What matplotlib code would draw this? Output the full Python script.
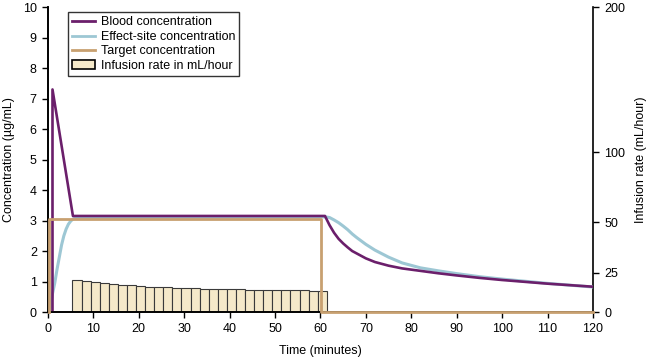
import matplotlib
matplotlib.use("Agg")
import matplotlib.pyplot as plt
import numpy as np
from matplotlib.patches import Patch
from matplotlib.lines import Line2D

# blood concentration (ug/mL)
blood_t = [1.0, 1.0, 5.5, 61.0, 62, 63, 64, 65, 66, 67, 68, 70, 72, 75, 78,
           82, 86, 90, 95, 100, 105, 110, 115, 120]
blood_c = [0.0, 7.3, 3.15, 3.15, 2.85, 2.6, 2.4, 2.25, 2.12, 2.0, 1.92, 1.76,
           1.64, 1.52, 1.43, 1.35, 1.27, 1.20, 1.12, 1.05, 0.99, 0.93, 0.88, 0.83]

# effect-site concentration (ug/mL)
effect_t = [0.4, 1.0, 1.5, 2.0, 2.5, 3.0, 3.5, 4.0, 4.5, 5.0, 5.5, 6.5, 61.0,
            62, 63, 64, 65, 66, 67, 68, 70, 72, 75, 78, 82, 86, 90, 95, 100,
            105, 110, 115, 120]
effect_c = [0.0, 0.6, 0.95, 1.4, 1.8, 2.2, 2.5, 2.72, 2.88, 2.98, 3.05, 3.1,
            3.12, 3.1, 3.02, 2.93, 2.82, 2.7, 2.56, 2.44, 2.22, 2.03, 1.80,
            1.61, 1.45, 1.35, 1.26, 1.16, 1.08, 1.01, 0.94, 0.88, 0.82]

# target concentration (ug/mL)
target_t = [0.3, 0.3, 60.2, 60.2, 120]
target_c = [0.0, 3.05, 3.05, 0.0, 0.0]

# infusion rate (mL/hour), one bar per 2 min starting at 5.4 min
infusion_start = [5.4 + 2 * i for i in range(28)]
infusion_rate = [20.3, 19.6, 19.0, 18.3, 17.9, 17.5, 17.1, 16.6, 16.2, 16.0,
                 15.8, 15.4, 15.1, 15.1, 14.9, 14.9, 14.7, 14.7, 14.5, 14.3,
                 14.1, 14.1, 14.1, 13.9, 13.9, 13.9, 13.7, 13.4]

# right axis ticks sit at odd places on the left scale in the original
rate_ticks = [0, 25, 50, 100, 200]
rate_pos = [0, 1.28, 2.94, 5.24, 10]

def fwd(v):
    return np.interp(v, rate_ticks, rate_pos)

def inv(v):
    return np.interp(v, rate_pos, rate_ticks)

purple = "#6b1f6b"
blue = "#9dc7d4"
tan = "#c8a070"
barfill = "#f5e9c9"

plt.rcParams["font.family"] = "Liberation Sans"

fig = plt.figure(figsize=(6.48, 3.57), dpi=100)
ax = fig.add_axes([0.074, 0.126, 0.841, 0.854])
ax2 = ax.twinx()
ax.set_zorder(ax2.get_zorder() + 1)
ax.patch.set_visible(False)

ax2.set_yscale("function", functions=(fwd, inv))
ax2.set_ylim(0, 200)
ax2.bar(infusion_start, infusion_rate, width=2, align="edge",
        color=barfill, edgecolor="#3a3a3a", linewidth=0.8)

ax.plot(effect_t, effect_c, color=blue, lw=2.2, solid_capstyle="butt")
ax.plot(blood_t, blood_c, color=purple, lw=1.9)
ax.plot(target_t, target_c, color=tan, lw=2.0, clip_on=False, zorder=3)

ax.set_xlim(0, 120)
ax.set_ylim(0, 10)
ax.set_xticks(range(0, 121, 10))
ax.set_yticks(range(0, 11))
ax2.set_yticks(rate_ticks)
ax2.set_yticklabels([str(v) for v in rate_ticks])
ax2.yaxis.set_minor_locator(matplotlib.ticker.NullLocator())

for a in (ax, ax2):
    a.spines["top"].set_visible(False)
    for s in ("left", "right", "bottom"):
        a.spines[s].set_linewidth(1.2)
    a.tick_params(direction="out", length=4, width=1, labelsize=9, pad=4)
ax.spines["right"].set_visible(False)

ax.set_xlabel("Time (minutes)", fontsize=9)
ax.xaxis.set_label_coords(0.5, -0.108)
ax.set_ylabel("Concentration (µg/mL)", fontsize=9)
ax.yaxis.set_label_coords(-0.06, 0.5)
ax2.set_ylabel("Infusion rate (mL/hour)", fontsize=9)
ax2.yaxis.set_label_coords(1.078, 0.5)

handles = [Line2D([], [], color=purple, lw=2),
           Line2D([], [], color=blue, lw=2),
           Line2D([], [], color=tan, lw=2),
           Patch(facecolor=barfill, edgecolor="black", linewidth=1.2)]
labels = ["Blood concentration", "Effect-site concentration",
          "Target concentration", "Infusion rate in mL/hour"]
leg = ax.legend(handles, labels, loc="upper left", bbox_to_anchor=(0.037, 0.984),
                fontsize=9, frameon=True, fancybox=False, handlelength=1.8,
                labelspacing=0.2, borderpad=0.35, handletextpad=0.45,
                borderaxespad=0)
leg.get_frame().set_edgecolor("black")
leg.get_frame().set_linewidth(1.0)

fig.savefig("out.png", dpi=100)
